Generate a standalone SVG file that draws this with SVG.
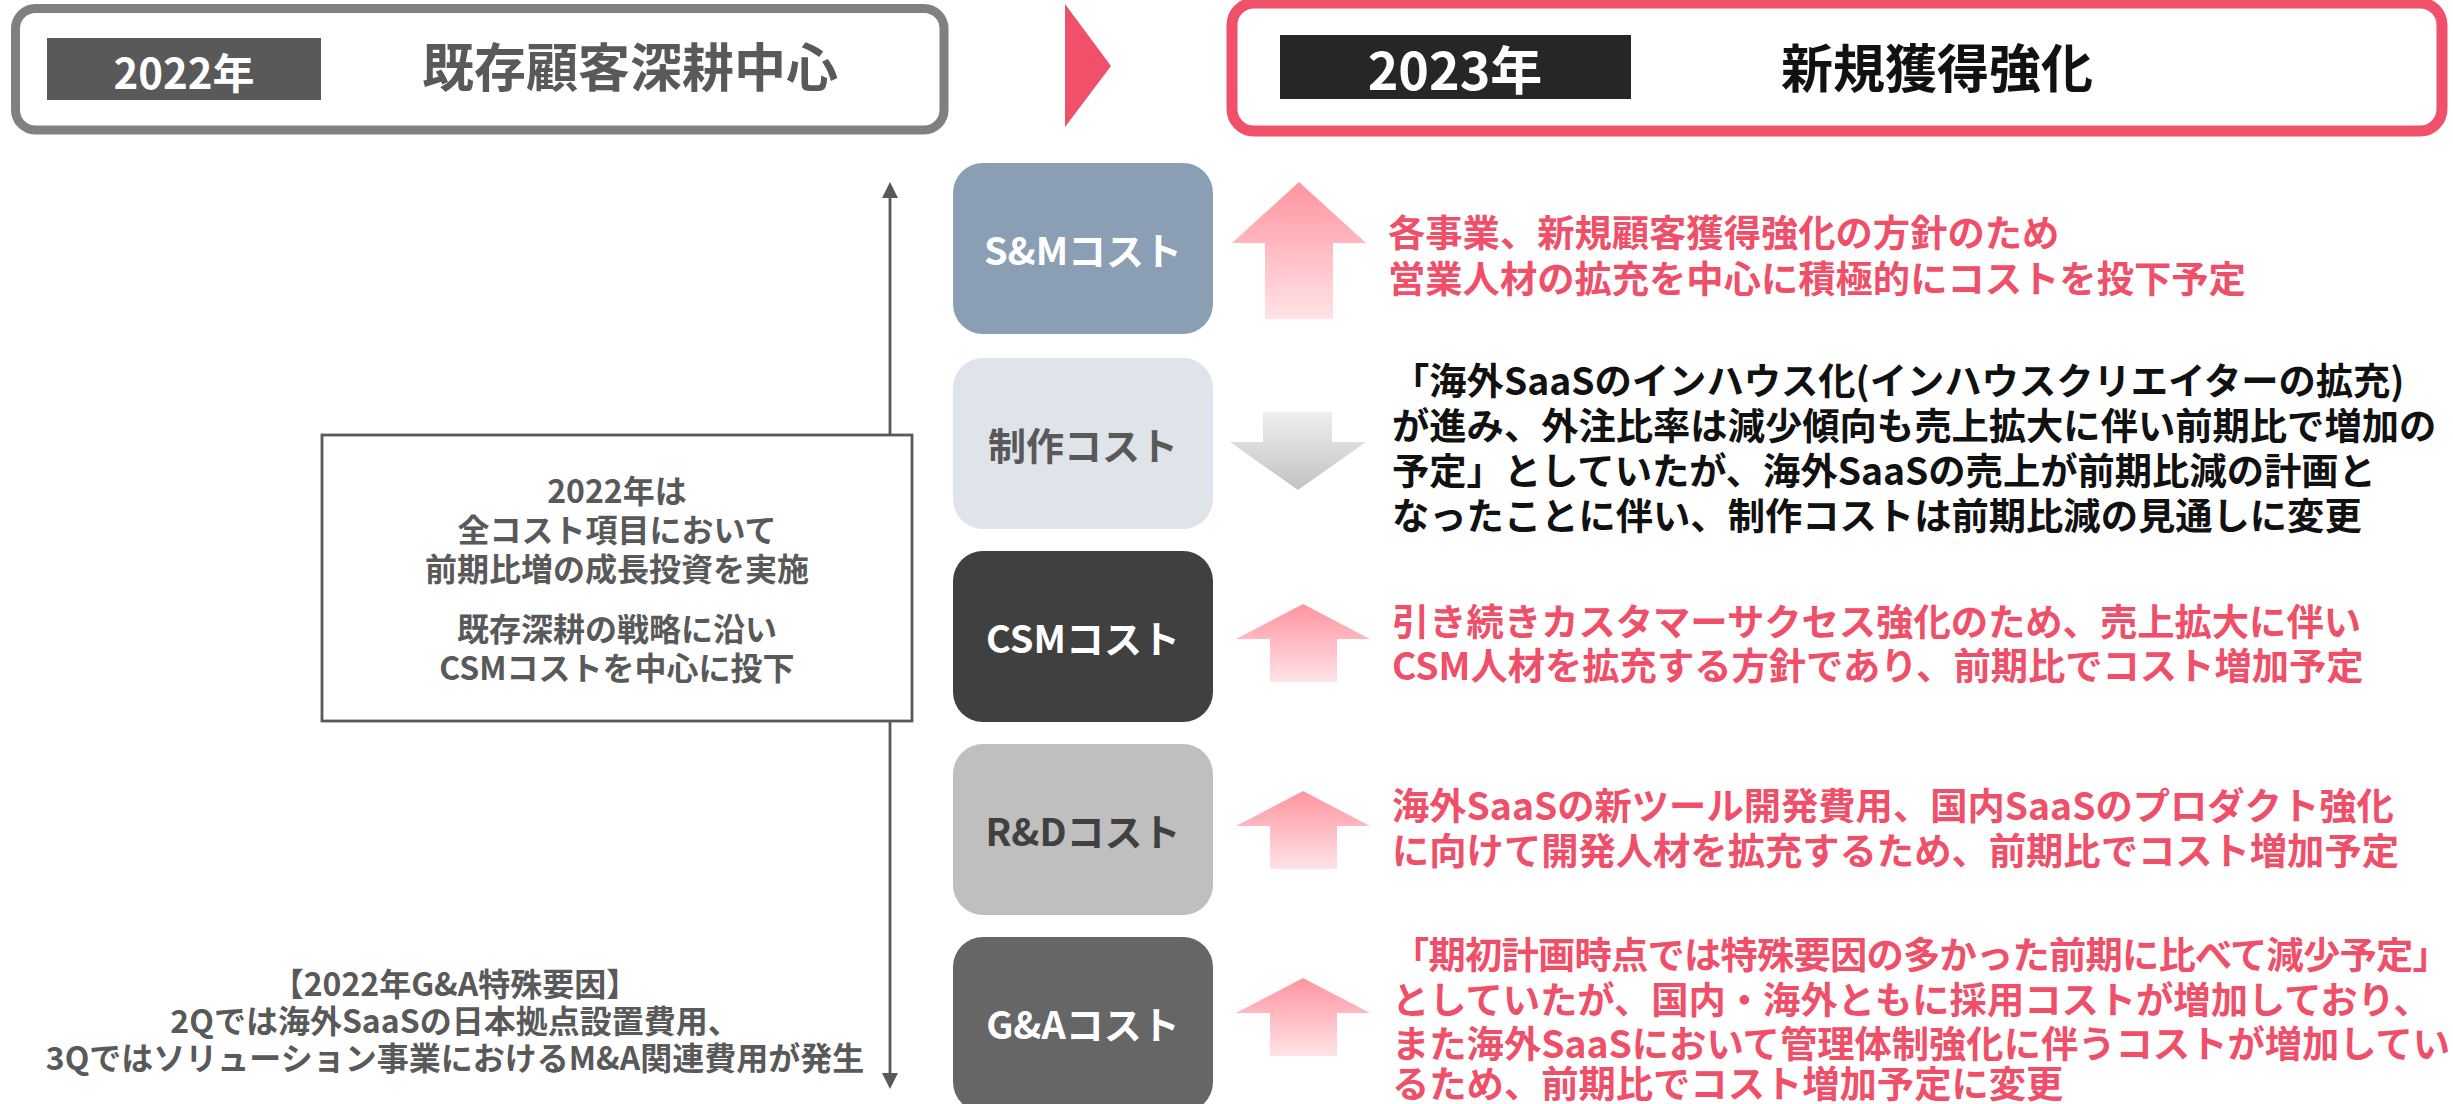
<svg xmlns="http://www.w3.org/2000/svg" width="2453" height="1104" viewBox="0 0 2453 1104">
<style>
text{font-family:"Noto Sans CJK JP","Noto Sans",sans-serif;font-weight:bold;dominant-baseline:central}
.c{text-anchor:middle}
.red{fill:#EF4F68;font-size:37.3px}
.blk{fill:#111111;font-size:37.3px}
.grey{fill:#595959}
.box{font-size:38px}
.note{font-size:32px;fill:#595959}
</style>
<defs>
<linearGradient id="gUp" x1="0" y1="0" x2="0" y2="1">
<stop offset="0" stop-color="#FF949F"/>
<stop offset="1" stop-color="#FFE3E7"/>
</linearGradient>
<linearGradient id="gDown" x1="0" y1="0" x2="0" y2="1">
<stop offset="0" stop-color="#EEEEEE"/>
<stop offset="1" stop-color="#C3C3C3"/>
</linearGradient>
<marker id="ah" viewBox="0 0 16 16" refX="0" refY="8" markerWidth="16" markerHeight="16" markerUnits="userSpaceOnUse" orient="auto-start-reverse">
<path d="M0,0 L16,8 L0,16 Z" fill="#595959"/>
</marker>
</defs>
<rect width="2453" height="1104" fill="#FFFFFF"/>

<g id="connectors">
<line x1="890" y1="1073" x2="890" y2="198" stroke="#595959" stroke-width="2.8" marker-start="url(#ah)" marker-end="url(#ah)"/>
</g>

<g id="header-2022">
<rect x="15.5" y="8.5" width="928.5" height="121.5" rx="20" fill="#FFFFFF" stroke="#808080" stroke-width="9"/>
<rect x="47" y="38" width="274" height="62" fill="#595959"/>
<text x="184" y="70" class="c" fill="#FFFFFF" font-size="42">2022年</text>
<text x="630" y="64" class="c grey" font-size="52">既存顧客深耕中心</text>
</g>

<g id="transition-arrow">
<polygon points="1065,4 1111,66 1065,127" fill="#F0506A"/>
</g>

<g id="header-2023">
<rect x="1232" y="3" width="1210" height="128" rx="22" fill="#FFFFFF" stroke="#F0506A" stroke-width="11"/>
<rect x="1280" y="35" width="351" height="64" fill="#262626"/>
<text x="1455" y="67" class="c" fill="#FFFFFF" font-size="52">2023年</text>
<text x="1937" y="65" class="c" fill="#111111" font-size="52">新規獲得強化</text>
</g>

<g id="node-sm">
<rect x="953" y="163" width="260" height="171" rx="30" fill="#8A9FB3"/>
<text x="1083" y="248" class="c box" fill="#FFFFFF">S&amp;Mコスト</text>
<polygon points="1299,182 1366,243 1333,243 1333,319 1265,319 1265,243 1232,243" fill="url(#gUp)"/>
<text x="1388" y="231" class="red">各事業、新規顧客獲得強化の方針のため</text>
<text x="1388" y="277" class="red">営業人材の拡充を中心に積極的にコストを投下予定</text>
</g>

<g id="node-seisaku">
<rect x="953" y="358" width="260" height="171" rx="30" fill="#DFE4EA"/>
<text x="1083" y="443" class="c box grey">制作コスト</text>
<polygon points="1263,412 1332,412 1332,442 1366,442 1298,490 1230,442 1263,442" fill="url(#gDown)"/>
<text x="1392" y="379" class="blk">「海外SaaSのインハウス化(インハウスクリエイターの拡充)</text>
<text x="1392" y="424" class="blk">が進み、外注比率は減少傾向も売上拡大に伴い前期比で増加の</text>
<text x="1392" y="469" class="blk">予定」としていたが、海外SaaSの売上が前期比減の計画と</text>
<text x="1392" y="514" class="blk">なったことに伴い、制作コストは前期比減の見通しに変更</text>
</g>

<g id="node-csm">
<rect x="953" y="551" width="260" height="171" rx="30" fill="#404040"/>
<text x="1083" y="636" class="c box" fill="#FFFFFF">CSMコスト</text>
<polygon points="1303,604 1370,639 1337,639 1337,682 1270,682 1270,639 1236,639" fill="url(#gUp)"/>
<text x="1392" y="620" class="red">引き続きカスタマーサクセス強化のため、売上拡大に伴い</text>
<text x="1392" y="664" class="red">CSM人材を拡充する方針であり、前期比でコスト増加予定</text>
</g>

<g id="node-rd">
<rect x="953" y="744" width="260" height="171" rx="30" fill="#BFBFBF"/>
<text x="1083" y="829" class="c box" fill="#404040">R&amp;Dコスト</text>
<polygon points="1303,791 1370,826 1337,826 1337,869 1270,869 1270,826 1236,826" fill="url(#gUp)"/>
<text x="1392" y="804" class="red">海外SaaSの新ツール開発費用、国内SaaSのプロダクト強化</text>
<text x="1392" y="849" class="red">に向けて開発人材を拡充するため、前期比でコスト増加予定</text>
</g>

<g id="node-ga">
<rect x="953" y="937" width="260" height="175" rx="30" fill="#666666"/>
<text x="1083" y="1022" class="c box" fill="#FFFFFF">G&amp;Aコスト</text>
<polygon points="1303,978 1370,1013 1337,1013 1337,1056 1270,1056 1270,1013 1236,1013" fill="url(#gUp)"/>
<text x="1392" y="953" class="red" letter-spacing="-0.8">「期初計画時点では特殊要因の多かった前期に比べて減少予定」</text>
<text x="1392" y="998" class="red">としていたが、国内・海外ともに採用コストが増加しており、</text>
<text x="1392" y="1042" class="red">また海外SaaSにおいて管理体制強化に伴うコストが増加してい</text>
<text x="1392" y="1082" class="red">るため、前期比でコスト増加予定に変更</text>
</g>

<g id="note-2022">
<rect x="322" y="435" width="590" height="286" fill="#FFFFFF" stroke="#595959" stroke-width="2.8"/>
<text x="617" y="489" class="c note">2022年は</text>
<text x="617" y="528" class="c note">全コスト項目において</text>
<text x="617" y="567" class="c note">前期比増の成長投資を実施</text>
<text x="617" y="627" class="c note">既存深耕の戦略に沿い</text>
<text x="617" y="666" class="c note">CSMコストを中心に投下</text>
</g>

<g id="note-ga-2022">
<text x="455" y="982" class="c note" font-size="33">【2022年G&amp;A特殊要因】</text>
<text x="455" y="1019" class="c note" font-size="33">2Qでは海外SaaSの日本拠点設置費用、</text>
<text x="455" y="1056" class="c note" font-size="33">3Qではソリューション事業におけるM&amp;A関連費用が発生</text>
</g>
</svg>
